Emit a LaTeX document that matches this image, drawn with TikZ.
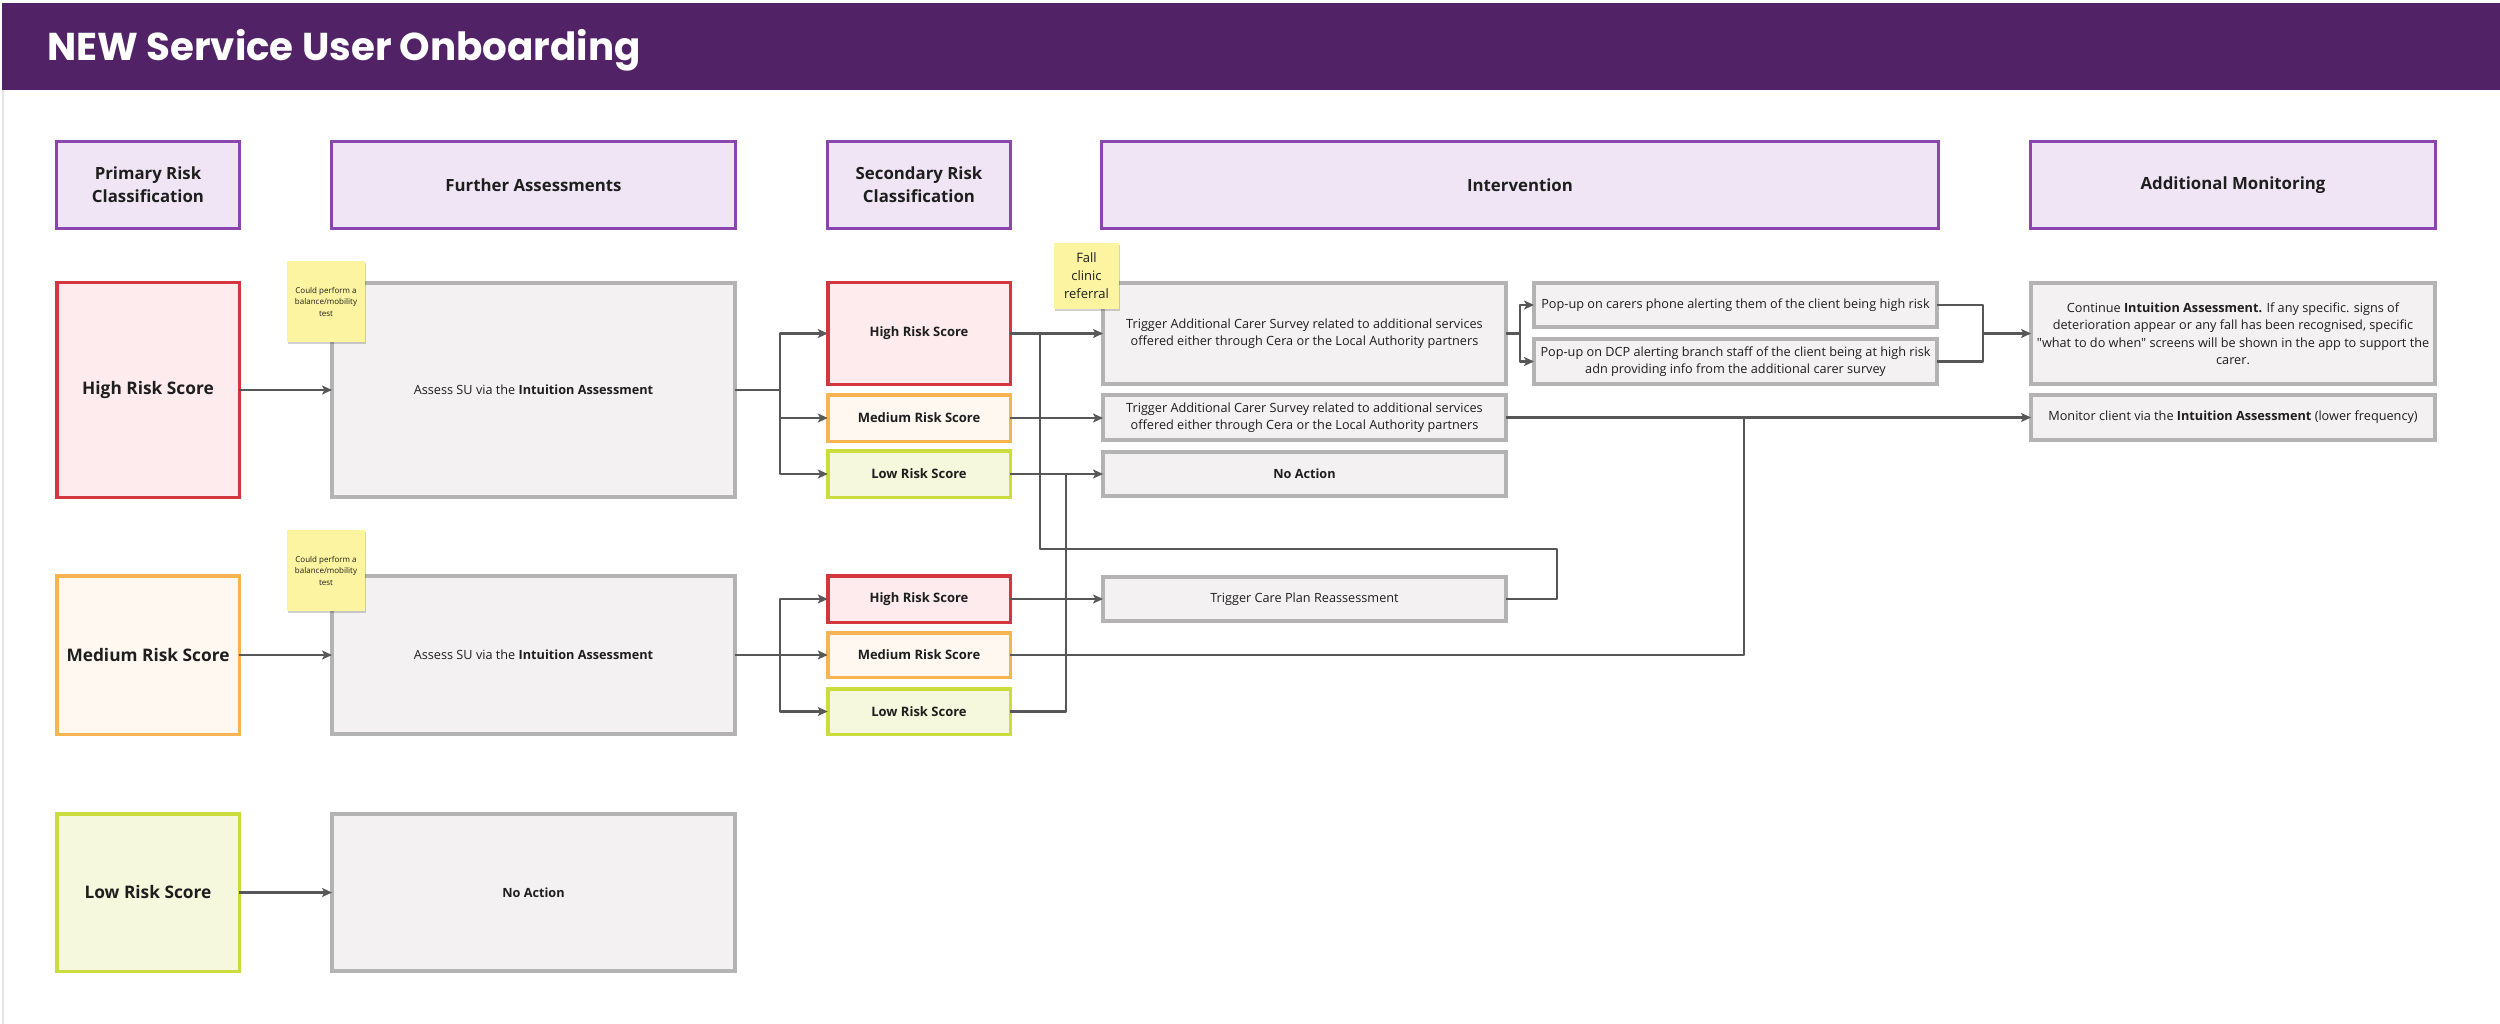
\documentclass[tikz,border=0pt]{standalone}
\usepackage{fontspec}
\setmainfont{Open Sans}[Ligatures=TeXOff]
\newfontfamily\titlefont{Poppins}
\usetikzlibrary{arrows.meta,shadows}
\definecolor{titlebg}{HTML}{512366}
\definecolor{hdrfill}{HTML}{F0E5F5}
\definecolor{hdrborder}{HTML}{8A45AE}
\definecolor{redb}{HTML}{D4363D}
\definecolor{redf}{HTML}{FDEBEE}
\definecolor{orab}{HTML}{F8B452}
\definecolor{oraf}{HTML}{FFF8F1}
\definecolor{limb}{HTML}{CADD3C}
\definecolor{limf}{HTML}{F5F8DC}
\definecolor{gborder}{HTML}{B3B3B3}
\definecolor{gfill}{HTML}{F4F1F2}
\definecolor{stickyf}{HTML}{FCF4A0}
\definecolor{conncol}{HTML}{575757}
\definecolor{txt}{HTML}{1E1E1E}
\definecolor{framecol}{HTML}{E4E4E4}
\begin{document}
\begin{tikzpicture}[x=1pt,y=-1pt,
  base/.style={rectangle, inner sep=0pt, outer sep=0pt, align=center, text=txt},
  hdr/.style={base, draw=hdrborder, fill=hdrfill, line width=3pt, minimum height=87pt,
    font=\fontsize{16.8}{23}\selectfont\bfseries},
  prim/.style={base, line width=3.5pt, minimum width=182.5pt,
    font=\fontsize{17.3}{20}\selectfont\bfseries},
  sec/.style={base, line width=3.5pt, minimum width=182.5pt,
    font=\fontsize{13}{16}\selectfont\bfseries},
  redbox/.style={draw=redb, fill=redf},
  orabox/.style={draw=orab, fill=oraf},
  limbox/.style={draw=limb, fill=limf},
  gbox/.style={base, draw=gborder, fill=gfill, line width=4pt,
    font=\fontsize{12.7}{17.5}\selectfont},
  sticky/.style={base, fill=stickyf,
    drop shadow={shadow xshift=1pt, shadow yshift=-2pt, opacity=0.18, fill=black}},
  conn/.style={draw=conncol, line width=2.2pt, line join=round},
  arr/.style={conn, -{Stealth[length=10pt,width=9pt,inset=2.5pt]}},
]
\useasboundingbox (0,0) rectangle (2500,1024);
\fill[white] (0,0) rectangle (2500,1024);
\draw[framecol, line width=1.5pt] (3,90) -- (3,1024);
% title bar
\fill[titlebg] (2,3) rectangle (2500,90);
\node[anchor=base west, text=white, inner sep=0pt,
  font=\titlefont\bfseries\fontsize{38.8}{44}\selectfont] (title) at (47,61) {NEW Service User Onboarding};

% column headers
\node[hdr, minimum width=183pt] (h1) at (148,185) {Primary Risk\\Classification};
\node[hdr, minimum width=404pt] (h2) at (533.5,185) {Further Assessments};
\node[hdr, minimum width=183pt] (h3) at (919,185) {Secondary Risk\\Classification};
\node[hdr, minimum width=837pt] (h4) at (1520,185) {Intervention};
\node[hdr, minimum width=405pt] (h5) at (2233,185) {Additional Monitoring};

% primary risk
\node[prim, redbox, minimum height=214.5pt] (p1) at (148,390) {High Risk Score};
\node[prim, orabox, minimum height=158.5pt] (p2) at (148,655) {Medium Risk Score};
\node[prim, limbox, minimum height=157.5pt] (p3) at (148,892.5) {Low Risk Score};

% further assessments
\node[gbox, minimum width=403pt, minimum height=214pt] (a1) at (533.5,390) {Assess SU via the \textbf{Intuition Assessment}};
\node[gbox, minimum width=403pt, minimum height=158pt] (a2) at (533.5,655) {Assess SU via the \textbf{Intuition Assessment}};
\node[gbox, minimum width=403pt, minimum height=157pt] (a3) at (533.5,892.5) {\textbf{No Action}};

% sticky notes
\node[sticky, minimum width=78pt, minimum height=81pt, font=\fontsize{8}{11.5}\selectfont] (n1) at (326,301.5) {Could perform a\\balance/mobility\\test};
\node[sticky, minimum width=78pt, minimum height=81pt, font=\fontsize{8}{11.5}\selectfont] (n2) at (326,570.5) {Could perform a\\balance/mobility\\test};

% secondary risk
\node[sec, redbox, minimum height=101.5pt] (s1h) at (919,333.5) {High Risk Score};
\node[sec, orabox, minimum height=46.5pt] (s1m) at (919,418) {Medium Risk Score};
\node[sec, limbox, minimum height=46.5pt] (s1l) at (919,474) {Low Risk Score};
\node[sec, redbox, minimum height=46.5pt] (s2h) at (919,599) {High Risk Score};
\node[sec, orabox, minimum height=44.5pt] (s2m) at (919,655) {Medium Risk Score};
\node[sec, limbox, minimum height=45.5pt] (s2l) at (919,711.5) {Low Risk Score};

% intervention
\node[gbox, minimum width=403pt, minimum height=101pt] (i1) at (1304.5,333.5) {Trigger Additional Carer Survey related to additional services\\offered either through Cera or the Local Authority partners};
\node[gbox, minimum width=403pt, minimum height=45pt] (i2) at (1304.5,417.5) {Trigger Additional Carer Survey related to additional services\\offered either through Cera or the Local Authority partners};
\node[gbox, minimum width=403pt, minimum height=44pt] (i3) at (1304.5,474) {\textbf{No Action}};
\node[gbox, minimum width=403pt, minimum height=44pt] (i4) at (1304.5,599) {Trigger Care Plan Reassessment};
\node[gbox, minimum width=403pt, minimum height=44pt] (u1) at (1735.5,305) {Pop-up on carers phone alerting them of the client being high risk};
\node[gbox, minimum width=403pt, minimum height=45pt] (u2) at (1735.5,361.5) {Pop-up on DCP alerting branch staff of the client being at high risk\\adn providing info from the additional carer survey};
\node[sticky, minimum width=65pt, minimum height=66pt, font=\fontsize{13}{18}\selectfont] (n3) at (1086.5,276) {Fall\\clinic\\referral};

% additional monitoring
\node[gbox, minimum width=404pt, minimum height=101pt] (m1) at (2233,333.5) {Continue \textbf{Intuition Assessment.} If any specific. signs of\\deterioration appear or any fall has been recognised, specific\\"what to do when" screens will be shown in the app to support the\\carer.};
\node[gbox, minimum width=404pt, minimum height=45pt] (m2) at (2233,417.5) {Monitor client via the \textbf{Intuition Assessment} (lower frequency)};

% junction coordinates
\coordinate (j1) at (780,390);
\coordinate (j2) at (780,655);
\coordinate (jc1) at (1040,333.5);
\coordinate (jc2) at (1040,549);
\coordinate (jc3) at (1557,549);
\coordinate (jc4) at (1557,599);
\coordinate (jl1) at (1066,474);
\coordinate (jl2) at (1066,711.5);
\coordinate (jm1) at (1744,418);
\coordinate (jm2) at (1744,655);
\coordinate (jp) at (1520,333.5);
\coordinate (jq1) at (1983,305);
\coordinate (jq2) at (1983,361.5);
\coordinate (jq) at (1983,333.5);

% connectors: primary -> assessments
\draw[arr] (p1.east) -- (a1.west);
\draw[arr] (p2.east) -- (a2.west);
\draw[arr] (p3.east) -- (a3.west);
% assessments -> secondary
\draw[conn] (a1.east) -- (j1);
\draw[arr] (j1) |- (s1h.west);
\draw[arr] (j1) |- (s1m.west);
\draw[arr] (j1) |- (s1l.west);
\draw[conn] (a2.east) -- (j2);
\draw[arr] (j2) |- (s2h.west);
\draw[arr] (j2) |- (s2m.west);
\draw[arr] (j2) |- (s2l.west);
% secondary -> intervention
\draw[arr] (s1h.east) -- (i1.west);
\draw[arr] (s1m.east) -- (s1m.east -| i2.west);
\draw[arr] (s1l.east) -- (i3.west);
\draw[arr] (s2h.east) -- (i4.west);
\draw[conn] (i4.east) -- (jc4) -- (jc3) -- (jc2) -- (jc1);
\draw[conn] (s2l.east) -- (jl2) -- (jl1);
\draw[conn] (s2m.east) -- (jm2) -- (jm1);
% intervention -> popups
\draw[conn] (i1.east) -- (jp);
\draw[arr] (jp) |- (u1.west);
\draw[arr] (jp) |- (u2.west);
% popups -> monitoring
\draw[conn] (u1.east) -- (jq1) -- (jq2) -- (u2.east);
\draw[arr] (jq) -- (m1.west);
\draw[arr] (i2.east) -- (i2.east -| m2.west);
\end{tikzpicture}
\end{document}
